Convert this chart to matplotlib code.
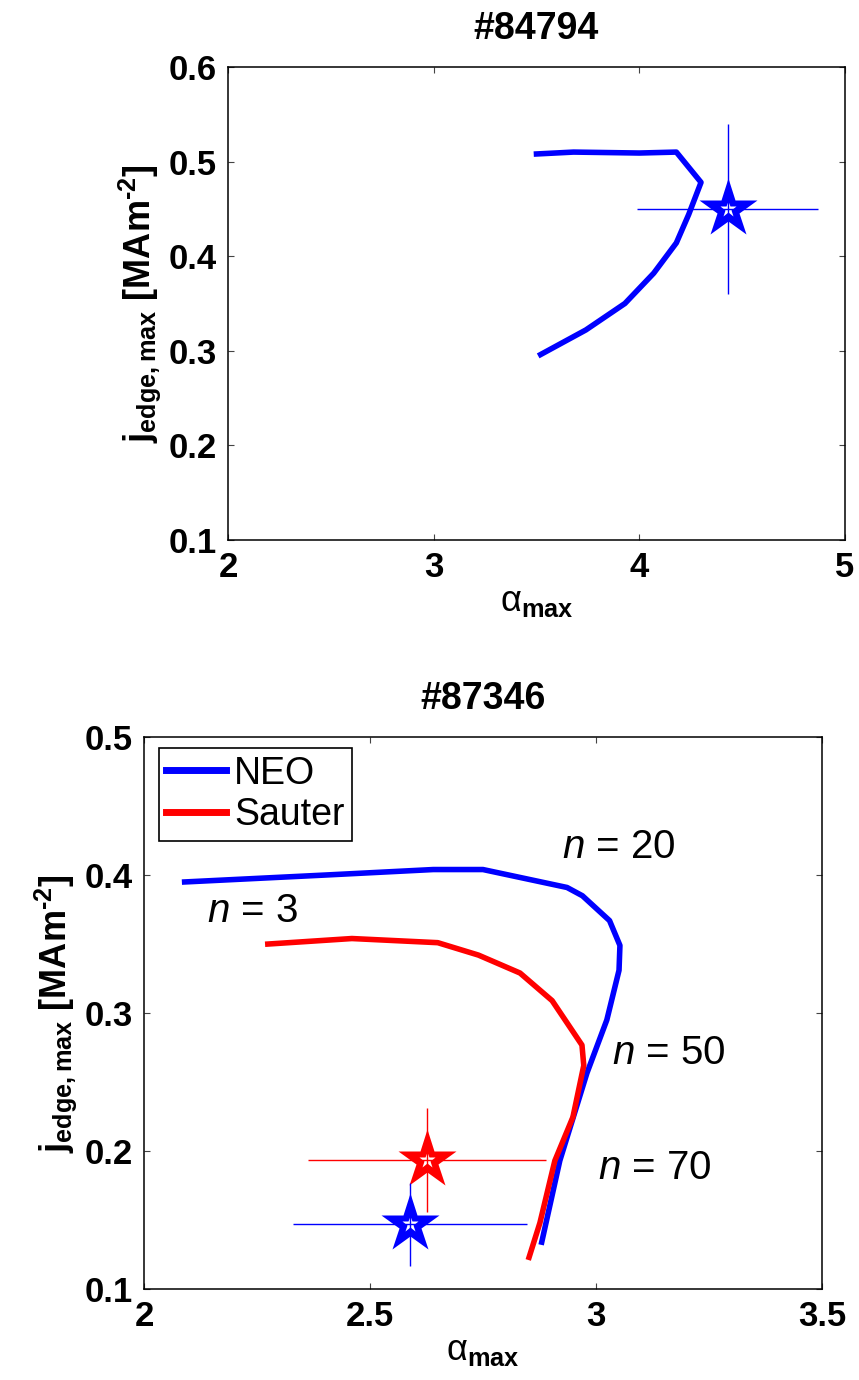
import matplotlib
matplotlib.use("Agg")
from matplotlib import pyplot as plt

# shot 84794
neo1_alpha = [3.50, 3.68, 4.00, 4.18, 4.30, 4.24, 4.18, 4.07, 3.93, 3.74, 3.52]
neo1_j = [0.508, 0.510, 0.509, 0.510, 0.478, 0.444, 0.414, 0.382, 0.350, 0.322, 0.296]
exp1_alpha, exp1_j = 4.43, 0.450
exp1_aerr, exp1_jerr = 0.44, 0.09

# shot 87346
neo2_alpha = [2.09, 2.40, 2.64, 2.75, 2.936, 2.97, 3.03, 3.053, 3.051, 3.024,
              2.98, 2.92, 2.88]
neo2_j = [0.395, 0.400, 0.404, 0.404, 0.391, 0.385, 0.367, 0.349, 0.331, 0.295,
          0.2565, 0.193, 0.134]
sau2_alpha = [2.274, 2.46, 2.65, 2.74, 2.832, 2.903, 2.969, 2.973, 2.949,
              2.909, 2.876, 2.852]
sau2_j = [0.350, 0.354, 0.351, 0.342, 0.329, 0.309, 0.2768, 0.262, 0.2246,
          0.193, 0.148, 0.123]
exp2_neo = (2.588, 0.147, 0.259, 0.030)
exp2_sau = (2.626, 0.1935, 0.263, 0.038)

labels_n = ["20", "3", "50", "70"]
labels_pos = [(3.05, 0.42), (2.24, 0.374), (3.16, 0.271), (3.13, 0.188)]

plt.rcParams['font.family'] = ['Liberation Sans', 'DejaVu Sans']
plt.rcParams['mathtext.fontset'] = 'custom'
plt.rcParams['mathtext.rm'] = 'Liberation Sans'
plt.rcParams['mathtext.bf'] = 'Liberation Sans:bold'
plt.rcParams['mathtext.it'] = 'Liberation Sans:italic'

XLAB = 'α$_{\\mathbf{max}}$'
YLAB = 'j$_{\\mathbf{edge,max}}$ [MAm$^{\\mathbf{\u20102}}$]'


def style(ax, xt, yt):
    ax.set_xticks(xt)
    ax.set_yticks(yt)
    ax.set_xticklabels([f"{v:g}" for v in xt], fontsize=25, fontweight='bold')
    ax.set_yticklabels([f"{v:g}" for v in yt], fontsize=25, fontweight='bold')
    ax.tick_params(direction='in', length=4, width=0.8, top=True,
                   right=True, color='#444444', pad=8)
    for s in ax.spines.values():
        s.set_linewidth(1.1)
    ax.set_xlabel(XLAB, fontsize=26, labelpad=0)
    ax.set_ylabel(YLAB, fontsize=26, fontweight='bold', labelpad=4)


def star(ax, x, y, xe, ye, c):
    # big filled star, small white star inside, error bars on top
    ax.plot(x, y, marker='*', ms=44, mfc=c, mec='none',
            linestyle='none', zorder=3)
    ax.plot(x, y, marker='*', ms=12, mfc='white', mec='none',
            linestyle='none', zorder=4)
    ax.errorbar(x, y, xerr=xe, yerr=ye, fmt='none', ecolor=c, elinewidth=1,
                capsize=0, zorder=5)


fig = plt.figure(figsize=(8.59, 13.80), dpi=100)

# TOP PANEL
ax1 = fig.add_axes([0.2654, 0.6087, 0.7183, 0.3428])
ax1.plot(neo1_alpha, neo1_j, color='blue', lw=4)
star(ax1, exp1_alpha, exp1_j, exp1_aerr, exp1_jerr, 'blue')
ax1.set_xlim(2, 5)
ax1.set_ylim(0.1, 0.6)
style(ax1, [2, 3, 4, 5], [0.1, 0.2, 0.3, 0.4, 0.5, 0.6])
ax1.set_title("#84794", fontsize=27, fontweight='bold', pad=20)

# BOTTOM PANEL
ax2 = fig.add_axes([0.1676, 0.0659, 0.7893, 0.4])
ax2.plot(neo2_alpha, neo2_j, color='blue', lw=4, label='NEO')
ax2.plot(sau2_alpha, sau2_j, color='red', lw=4, label='Sauter')
star(ax2, *exp2_sau, 'red')
star(ax2, *exp2_neo, 'blue')
ax2.set_xlim(2, 3.5)
ax2.set_ylim(0.1, 0.5)
style(ax2, [2, 2.5, 3, 3.5], [0.1, 0.2, 0.3, 0.4, 0.5])
ax2.set_title("#87346", fontsize=27, fontweight='bold', pad=20)

for txt, (x, y) in zip(labels_n, labels_pos):
    ax2.text(x, y, r'$n$ = ' + txt, fontsize=29, ha='center', va='center')

leg = ax2.legend(loc='upper left', bbox_to_anchor=(0.022, 0.98),
                 fontsize=27, handlelength=1.6, handletextpad=0.2,
                 borderpad=0.2, labelspacing=0.15, fancybox=False,
                 framealpha=1, edgecolor='black', borderaxespad=0)
leg.get_frame().set_linewidth(1.2)
for h in leg.get_lines():
    h.set_linewidth(5)

fig.savefig("out.png", dpi=100)
